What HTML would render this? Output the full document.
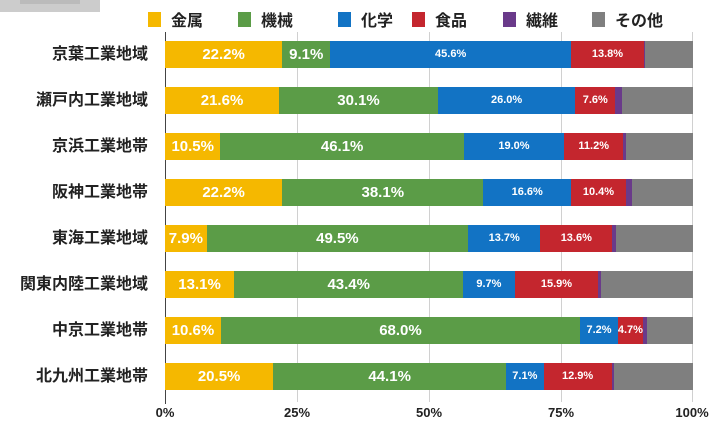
<!DOCTYPE html>
<html><head><meta charset="utf-8"><style>
body{margin:0;width:725px;height:426px;background:#fff;position:relative;overflow:hidden;font-family:"Liberation Sans","Noto Sans CJK JP",sans-serif;}
.grid{position:absolute;top:32px;height:370px;width:1px;background:#d0d0d0;}
.axis{position:absolute;left:165px;top:32px;height:372px;width:1px;background:#444;}
.row{position:absolute;left:165px;width:528px;height:27px;display:flex;}
.row div{height:27px;color:#fff;font-weight:bold;font-size:15px;line-height:27px;text-align:center;white-space:nowrap;overflow:visible;display:flex;justify-content:center;}
.s{font-size:11px!important;}
.y{background:#f5b800}.g{background:#5b9c47}.b{background:#1273c4}.r{background:#c4262e}.p{background:#6a3a8a}.o{background:#7f7f7f}
.lab{position:absolute;right:577px;font-size:16px;font-weight:bold;color:#222;line-height:27px;white-space:nowrap;}
.tick{position:absolute;top:405px;font-size:13px;font-weight:bold;color:#222;transform:translateX(-50%);}
.leg{position:absolute;top:7px;font-size:16px;font-weight:bold;color:#222;display:flex;align-items:center;}
.leg i{display:inline-block;width:13px;height:15px;margin-right:10px;}
</style></head><body>
<div style="position:absolute;left:0;top:0;width:100px;height:12px;background:#ccc"></div>
<div style="position:absolute;left:20px;top:0;width:60px;height:4px;background:#bbb"></div>
<div class="leg" style="left:148px"><i class="y"></i>金属</div>
<div class="leg" style="left:238px"><i class="g"></i>機械</div>
<div class="leg" style="left:338px"><i class="b"></i>化学</div>
<div class="leg" style="left:412px"><i class="r"></i>食品</div>
<div class="leg" style="left:503px"><i class="p"></i>繊維</div>
<div class="leg" style="left:592px"><i class="o"></i>その他</div>

<div class="grid" style="left:297px"></div>
<div class="grid" style="left:429px"></div>
<div class="grid" style="left:561px"></div>
<div class="grid" style="left:692px"></div>
<div class="axis"></div>

<div class="lab" style="top:41px">京葉工業地域</div>
<div class="row" style="top:41px"><div class="y" style="width:22.2%">22.2%</div><div class="g" style="width:9.1%">9.1%</div><div class="b s" style="width:45.6%">45.6%</div><div class="r s" style="width:13.8%">13.8%</div><div class="p" style="width:0.2%"></div><div class="o" style="width:9.1%"></div></div>

<div class="lab" style="top:87px">瀬戸内工業地域</div>
<div class="row" style="top:87px"><div class="y" style="width:21.6%">21.6%</div><div class="g" style="width:30.1%">30.1%</div><div class="b s" style="width:26%">26.0%</div><div class="r s" style="width:7.6%">7.6%</div><div class="p" style="width:1.3%"></div><div class="o" style="width:13.4%"></div></div>

<div class="lab" style="top:133px">京浜工業地帯</div>
<div class="row" style="top:133px"><div class="y" style="width:10.5%">10.5%</div><div class="g" style="width:46.1%">46.1%</div><div class="b s" style="width:19%">19.0%</div><div class="r s" style="width:11.2%">11.2%</div><div class="p" style="width:0.5%"></div><div class="o" style="width:12.7%"></div></div>

<div class="lab" style="top:179px">阪神工業地帯</div>
<div class="row" style="top:179px"><div class="y" style="width:22.2%">22.2%</div><div class="g" style="width:38.1%">38.1%</div><div class="b s" style="width:16.6%">16.6%</div><div class="r s" style="width:10.4%">10.4%</div><div class="p" style="width:1.2%"></div><div class="o" style="width:11.5%"></div></div>

<div class="lab" style="top:225px">東海工業地域</div>
<div class="row" style="top:225px"><div class="y" style="width:7.9%">7.9%</div><div class="g" style="width:49.5%">49.5%</div><div class="b s" style="width:13.7%">13.7%</div><div class="r s" style="width:13.6%">13.6%</div><div class="p" style="width:0.8%"></div><div class="o" style="width:14.5%"></div></div>

<div class="lab" style="top:271px">関東内陸工業地域</div>
<div class="row" style="top:271px"><div class="y" style="width:13.1%">13.1%</div><div class="g" style="width:43.4%">43.4%</div><div class="b s" style="width:9.7%">9.7%</div><div class="r s" style="width:15.9%">15.9%</div><div class="p" style="width:0.4%"></div><div class="o" style="width:17.5%"></div></div>

<div class="lab" style="top:317px">中京工業地帯</div>
<div class="row" style="top:317px"><div class="y" style="width:10.6%">10.6%</div><div class="g" style="width:68%">68.0%</div><div class="b s" style="width:7.2%">7.2%</div><div class="r s" style="width:4.7%">4.7%</div><div class="p" style="width:0.7%"></div><div class="o" style="width:8.8%"></div></div>

<div class="lab" style="top:363px">北九州工業地帯</div>
<div class="row" style="top:363px"><div class="y" style="width:20.5%">20.5%</div><div class="g" style="width:44.1%">44.1%</div><div class="b s" style="width:7.1%">7.1%</div><div class="r s" style="width:12.9%">12.9%</div><div class="p" style="width:0.5%"></div><div class="o" style="width:14.9%"></div></div>

<div class="tick" style="left:165px">0%</div>
<div class="tick" style="left:297px">25%</div>
<div class="tick" style="left:429px">50%</div>
<div class="tick" style="left:561px">75%</div>
<div class="tick" style="left:692px">100%</div>
</body></html>
